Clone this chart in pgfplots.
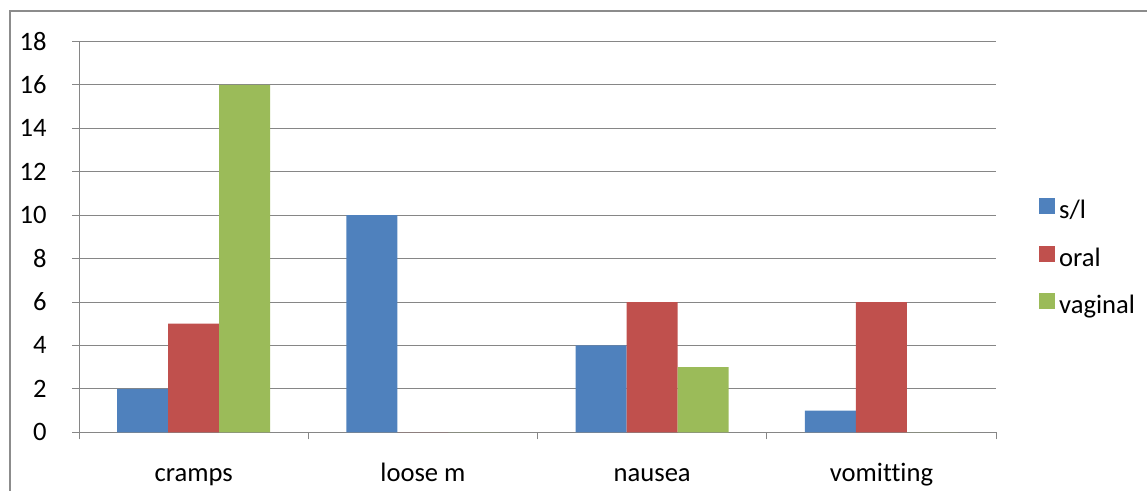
\documentclass[border=0pt]{standalone}
\usepackage{pgfplots}
\pgfplotsset{compat=1.18}
\usepackage{fontspec}
\setmainfont[Ligatures=NoCommon]{Carlito}
\definecolor{c1}{HTML}{4F81BD}
\definecolor{c2}{HTML}{C0504D}
\definecolor{c3}{HTML}{9BBB59}
\definecolor{gridgray}{HTML}{868686}
\definecolor{framegray}{HTML}{8C8C8C}
\begin{document}
\fontsize{13.3}{16}\selectfont
\begin{tikzpicture}[x=1pt,y=1pt]
\useasboundingbox (0,0) rectangle (573.5,245.5);
\draw[color=framegray, line width=0.6pt] (5,-1) -- (5,240) -- (575,240);
\begin{axis}[
  at={(34.5,27)}, anchor=south west,
  scale only axis, width=458.5pt, height=195.5pt,
  xmin=-0.5, xmax=3.5, ymin=0, ymax=18,
  ytick={0,2,...,18},
  xtick={0,1,2,3},
  xticklabels={cramps,loose m,nausea,vomitting},
  minor xtick={-0.5,0.5,1.5,2.5,3.5},
  major x tick style={draw=none},
  axis x line=bottom, axis y line=left,
  axis line style={-, gridgray, line width=0.5pt},
  ymajorgrids,
  grid style={gridgray, line width=0.5pt},
  tick align=outside,
  major tick length=3.5pt, minor tick length=3.5pt,
  tick style={gridgray, line width=0.5pt},
  ybar=0pt, bar width=25.5pt,
  /pgf/number format/assume math mode=true,
  yticklabel style={anchor=east, inner sep=0pt, xshift=-12.5pt},
  xticklabel style={anchor=base, inner sep=0pt, yshift=-21pt},
  legend style={at={(1.046,0.60)}, anchor=north west, draw=none, fill=none,
    inner sep=0pt, row sep=11.5pt,
    nodes={inner sep=0pt, text height=7.5pt, text depth=2pt}},
  legend cell align=left,
  legend image code/.code={\fill[#1, draw=none] (0pt,-0.5pt) rectangle (8pt,7.5pt);},
]
\addplot[fill=c1, draw=none] coordinates {(0,2) (1,10) (2,4) (3,1)};
\addplot[fill=c2, draw=none] coordinates {(0,5) (1,0) (2,6) (3,6)};
\addplot[fill=c3, draw=none] coordinates {(0,16) (1,0) (2,3) (3,0)};
\legend{\,s/l,\,oral,\,vaginal}
\end{axis}
\end{tikzpicture}
\end{document}
